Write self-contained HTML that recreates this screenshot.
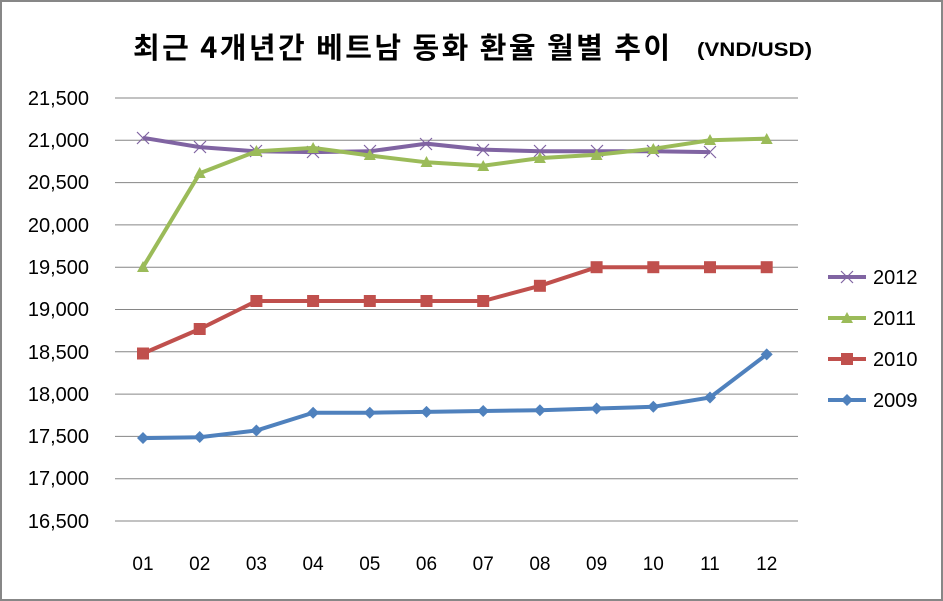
<!DOCTYPE html><html><head><meta charset="utf-8"><style>body{margin:0}svg{display:block}</style></head><body>
<svg width="943" height="601" xmlns="http://www.w3.org/2000/svg" font-family="Liberation Sans, Noto Sans CJK KR, sans-serif">
<rect x="1" y="1" width="941" height="599" fill="#fff" stroke="#878787" stroke-width="2"/>
<text x="133" y="58" font-size="29" font-weight="bold" font-family="Noto Sans CJK KR, sans-serif" textLength="537" lengthAdjust="spacing">최근 4개년간 베트남 동화 환율 월별 추이</text>
<text x="697" y="56" font-size="19" font-weight="bold" textLength="115" lengthAdjust="spacingAndGlyphs">(VND/USD)</text>
<g stroke="#868686" stroke-width="1">
<line x1="115" x2="798" y1="98" y2="98"/><line x1="115" x2="798" y1="140.3" y2="140.3"/><line x1="115" x2="798" y1="182.6" y2="182.6"/><line x1="115" x2="798" y1="224.9" y2="224.9"/><line x1="115" x2="798" y1="267.2" y2="267.2"/><line x1="115" x2="798" y1="309.5" y2="309.5"/><line x1="115" x2="798" y1="351.8" y2="351.8"/><line x1="115" x2="798" y1="394.1" y2="394.1"/><line x1="115" x2="798" y1="436.4" y2="436.4"/><line x1="115" x2="798" y1="478.7" y2="478.7"/><line x1="115" x2="798" y1="521" y2="521"/>
</g>
<g font-size="20" text-anchor="end" fill="#000">
<text x="89" y="105">21,500</text><text x="89" y="147">21,000</text><text x="89" y="189">20,500</text><text x="89" y="232">20,000</text><text x="89" y="274">19,500</text><text x="89" y="316">19,000</text><text x="89" y="359">18,500</text><text x="89" y="401">18,000</text><text x="89" y="443">17,500</text><text x="89" y="485">17,000</text><text x="89" y="528">16,500</text>
</g>
<g font-size="19" text-anchor="middle">
<text x="143" y="570">01</text><text x="199.7" y="570">02</text><text x="256.4" y="570">03</text><text x="313.1" y="570">04</text><text x="369.8" y="570">05</text><text x="426.5" y="570">06</text><text x="483.2" y="570">07</text><text x="539.9" y="570">08</text><text x="596.6" y="570">09</text><text x="653.3" y="570">10</text><text x="710" y="570">11</text><text x="766.7" y="570">12</text>
</g>
<polyline fill="none" stroke="#8064a2" stroke-width="4" points="143,137.8 199.7,147.1 256.4,151.3 313.1,152.1 369.8,151.3 426.5,143.7 483.2,149.6 539.9,151.3 596.6,151.3 653.3,151.3 710,152.1"/>
<g stroke="#8064a2" stroke-width="1.2">
<path d="M137,132l12,12M149,132l-12,12M194,141l12,12M206,141l-12,12M250,145l12,12M262,145l-12,12M307,146l12,12M319,146l-12,12M364,145l12,12M376,145l-12,12M420,138l12,12M432,138l-12,12M477,144l12,12M489,144l-12,12M534,145l12,12M546,145l-12,12M591,145l12,12M603,145l-12,12M647,145l12,12M659,145l-12,12M704,146l12,12M716,146l-12,12"/>
</g>
<polyline fill="none" stroke="#9bbb59" stroke-width="4" points="143,267.2 199.7,173.3 256.4,151.3 313.1,147.9 369.8,155.5 426.5,162.3 483.2,165.7 539.9,158.1 596.6,154.7 653.3,148.8 710,140.3 766.7,138.6"/>
<g fill="#9bbb59">
<path d="M143,261l6,11h-12zM199.7,167l6,11h-12zM256.4,145l6,11h-12zM313.1,142l6,11h-12zM369.8,149l6,11h-12zM426.5,156l6,11h-12zM483.2,160l6,11h-12zM539.9,152l6,11h-12zM596.6,149l6,11h-12zM653.3,143l6,11h-12zM710,134l6,11h-12zM766.7,133l6,11h-12z"/>
</g>
<polyline fill="none" stroke="#c0504d" stroke-width="4" points="143,353.5 199.7,329 256.4,301 313.1,301 369.8,301 426.5,301 483.2,301 539.9,285.8 596.6,267.2 653.3,267.2 710,267.2 766.7,267.2"/>
<g fill="#c0504d">
<rect x="137" y="347.5" width="12" height="12"/><rect x="193.7" y="323" width="12" height="12"/><rect x="250.4" y="295" width="12" height="12"/><rect x="307.1" y="295" width="12" height="12"/><rect x="363.8" y="295" width="12" height="12"/><rect x="420.5" y="295" width="12" height="12"/><rect x="477.2" y="295" width="12" height="12"/><rect x="533.9" y="279.8" width="12" height="12"/><rect x="590.6" y="261.2" width="12" height="12"/><rect x="647.3" y="261.2" width="12" height="12"/><rect x="704" y="261.2" width="12" height="12"/><rect x="760.7" y="261.2" width="12" height="12"/>
</g>
<polyline fill="none" stroke="#4f81bd" stroke-width="4" points="143,438.1 199.7,437.2 256.4,430.5 313.1,412.7 369.8,412.7 426.5,411.9 483.2,411 539.9,410.2 596.6,408.5 653.3,406.8 710,397.5 766.7,354.4"/>
<g fill="#4f81bd">
<path d="M143,432l6,6-6,6-6-6zM199.7,431l6,6-6,6-6-6zM256.4,424.5l6,6-6,6-6-6zM313.1,406.7l6,6-6,6-6-6zM369.8,406.7l6,6-6,6-6-6zM426.5,405.9l6,6-6,6-6-6zM483.2,405l6,6-6,6-6-6zM539.9,404.2l6,6-6,6-6-6zM596.6,402.5l6,6-6,6-6-6zM653.3,400.8l6,6-6,6-6-6zM710,391.5l6,6-6,6-6-6zM766.7,348.4l6,6-6,6-6-6z"/>
</g>
<line x1="828" x2="866" y1="277" y2="277" stroke="#8064a2" stroke-width="4"/><path d="M841,271l12,12M853,271l-12,12" stroke="#8064a2" stroke-width="1.2"/>
<text x="873" y="284" font-size="20">2012</text>
<line x1="828" x2="866" y1="318" y2="318" stroke="#9bbb59" stroke-width="4"/><path d="M847,312l6,11h-12z" fill="#9bbb59"/>
<text x="873" y="325" font-size="20">2011</text>
<line x1="828" x2="866" y1="359" y2="359" stroke="#c0504d" stroke-width="4"/><rect x="841" y="353" width="12" height="12" fill="#c0504d"/>
<text x="873" y="366" font-size="20">2010</text>
<line x1="828" x2="866" y1="400" y2="400" stroke="#4f81bd" stroke-width="4"/><path d="M847,394l6,6-6,6-6-6z" fill="#4f81bd"/>
<text x="873" y="407" font-size="20">2009</text>
</svg>
</body></html>
